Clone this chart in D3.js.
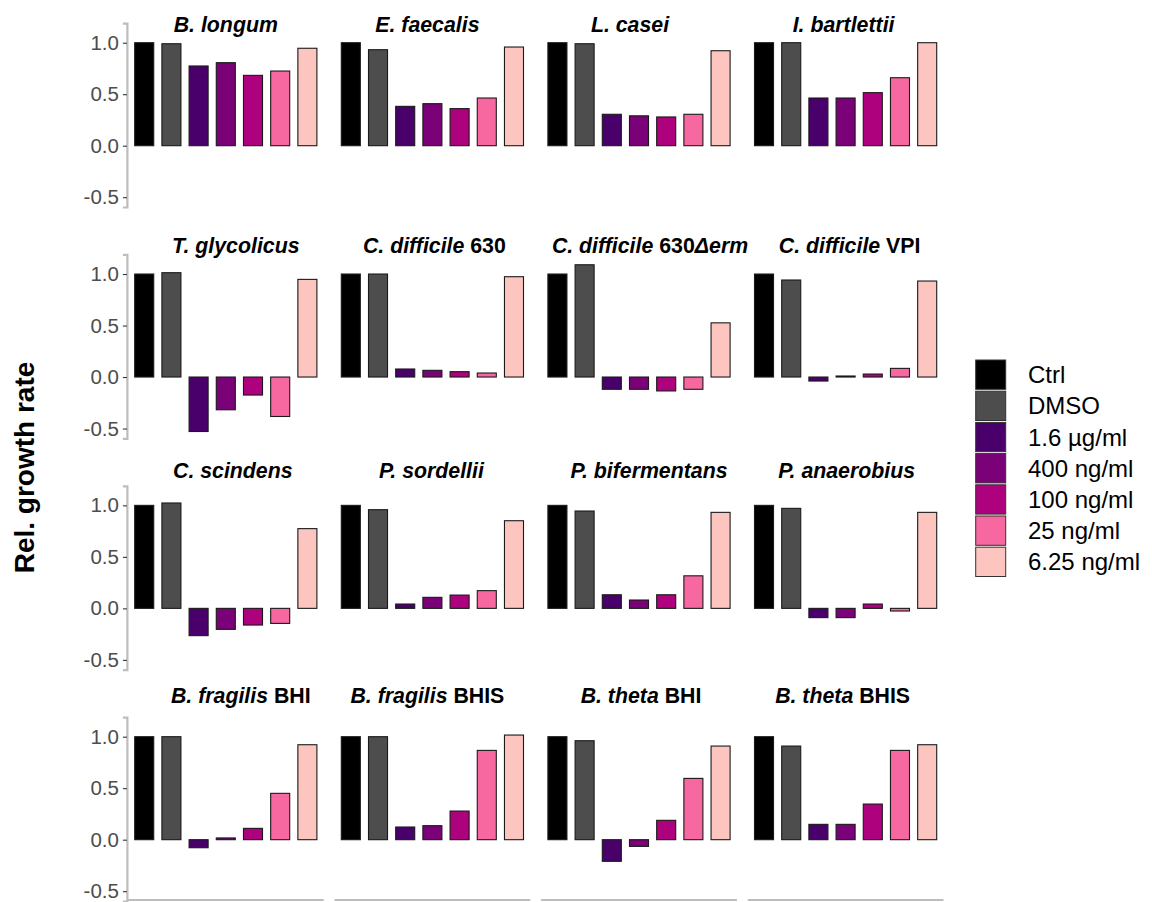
<!DOCTYPE html>
<html>
<head>
<meta charset="utf-8">
<script src="https://cdn.jsdelivr.net/npm/d3@7"></script>
<style>
  html, body { margin: 0; padding: 0; background: #fff; }
  svg { display: block; font-family: Arial, "Liberation Sans", Helvetica, sans-serif; }
</style>
</head>
<body>
<svg id="chart" width="1152" height="902"></svg>
<script>
// ---------- data ----------
const groups = ["Ctrl", "DMSO", "1.6 µg/ml", "400 ng/ml", "100 ng/ml", "25 ng/ml", "6.25 ng/ml"];
const colors = ["#000000", "#4D4D4D", "#49006A", "#7A0177", "#AE017E", "#F768A1", "#FCC5C0"];

// facet titles: segments [text, italic]
const titles = [
  [["B. longum", true]],
  [["E. faecalis", true]],
  [["L. casei", true]],
  [["I. bartlettii", true]],
  [["T. glycolicus", true]],
  [["C. difficile", true], [" 630", false]],
  [["C. difficile", true], [" 630", false], ["Δerm", true]],
  [["C. difficile", true], [" VPI", false]],
  [["C. scindens", true]],
  [["P. sordellii", true]],
  [["P. bifermentans", true]],
  [["P. anaerobius", true]],
  [["B. fragilis", true], [" BHI", false]],
  [["B. fragilis", true], [" BHIS", false]],
  [["B. theta", true], [" BHI", false]],
  [["B. theta", true], [" BHIS", false]]
];

// one array per treatment, one value per facet (in facet order)
const ctrl   = [1.00, 1.00, 1.00, 1.00, 1.00, 1.00, 1.00, 1.00, 1.00, 1.00, 1.00, 1.00, 1.00, 1.00, 1.00, 1.00];
const dmso   = [0.99, 0.932, 0.99, 1.00, 1.013, 1.00, 1.09, 0.942, 1.023, 0.958, 0.945, 0.971, 1.00, 1.00, 0.961, 0.909];
const c1600  = [0.774, 0.382, 0.305, 0.463, -0.529, 0.078, -0.119, -0.039, -0.265, 0.042, 0.132, -0.09, -0.078, 0.123, -0.21, 0.149];
const c400   = [0.806, 0.408, 0.29, 0.463, -0.318, 0.065, -0.119, 0.01, -0.204, 0.107, 0.081, -0.09, 0.017, 0.136, -0.065, 0.149];
const c100   = [0.683, 0.36, 0.279, 0.515, -0.175, 0.052, -0.135, 0.029, -0.162, 0.129, 0.132, 0.042, 0.11, 0.278, 0.188, 0.346];
const c25    = [0.725, 0.463, 0.305, 0.66, -0.383, 0.039, -0.119, 0.084, -0.146, 0.172, 0.316, -0.026, 0.45, 0.867, 0.595, 0.867];
const c6_25  = [0.946, 0.958, 0.922, 1.00, 0.948, 0.974, 0.526, 0.932, 0.774, 0.851, 0.932, 0.932, 0.922, 1.016, 0.909, 0.922];
const series = [ctrl, dmso, c1600, c400, c100, c25, c6_25];

const yTicks = [-0.5, 0.0, 0.5, 1.0];
const yTitle = "Rel. growth rate";

// ---------- layout ----------
const ncol = 4;
const colLeft0 = 127.9, colStep = 206.6, panelW = 195.8;
const row0 = 145.7, rowStep = 231.33;           // zero line of each row
const titleBase = [32, 252.5, 477.5, 703];
const titleShift = [0, -5, -9, -2, 10, 2, 11, 4, 7, -1, 10, 1, 15, -5, 2, -3];
const yDomain = [-0.595, 1.19];
const pxPerUnit = 103;

const svg = d3.select("#chart");

const x = d3.scaleBand().domain(groups).range([0, panelW]).paddingInner(0.3).paddingOuter(0.25);
const color = d3.scaleOrdinal().domain(groups).range(colors);

titles.forEach((t, i) => {
  const r = Math.floor(i / ncol), c = i % ncol;
  const left = colLeft0 + c * colStep;
  const zero = row0 + r * rowStep;
  const y = d3.scaleLinear().domain(yDomain)
    .range([zero - yDomain[0] * pxPerUnit, zero - yDomain[1] * pxPerUnit]);

  const g = svg.append("g").attr("transform", `translate(${left},0)`);

  // bars
  const vals = groups.map((grp, k) => ({ grp, v: series[k][i] }));
  g.selectAll("rect.bar").data(vals).join("rect")
    .attr("class", "bar")
    .attr("x", d => x(d.grp))
    .attr("width", x.bandwidth())
    .attr("y", d => y(Math.max(0, d.v)))
    .attr("height", d => Math.max(0.6, Math.abs(y(d.v) - y(0))))
    .attr("fill", d => color(d.grp))
    .attr("stroke", "#1a1a1a")
    .attr("stroke-width", 1.1);

  // y axis only on first column
  if (c === 0) {
    const ax = svg.append("g").attr("transform", `translate(${left - 1},0)`)
      .call(d3.axisLeft(y).tickValues(yTicks).tickFormat(d3.format(".1f")).tickSize(4).tickPadding(4));
    ax.select(".domain").attr("stroke", "#BDBDBD").attr("stroke-width", 2.2);
    ax.selectAll(".tick line").attr("stroke", "#333333").attr("stroke-width", 1.1);
    ax.selectAll(".tick text").attr("fill", "#4D4D4D").style("font-size", "20.5px")
      .text(d => d3.format(".1f")(d).replace("−", "-"));
    ax.attr("font-family", null);
  }

  // x axis line only on bottom row
  if (r === 3) {
    const ybot = y(yDomain[0]) - 1;
    g.append("line").attr("x1", 0).attr("x2", panelW).attr("y1", ybot).attr("y2", ybot)
      .attr("stroke", "#BDBDBD").attr("stroke-width", 2.2);
  }

  // facet title
  const tt = svg.append("text")
    .attr("x", left + panelW / 2 + titleShift[i])
    .attr("y", titleBase[r])
    .attr("text-anchor", "middle")
    .style("font-size", "21.3px")
    .style("font-weight", "bold")
    .attr("fill", "#000");
  t.forEach(([s, it]) => {
    tt.append("tspan").text(s).style("font-style", it ? "italic" : "normal");
  });
});

// y axis title
svg.append("text")
  .attr("transform", `translate(34,467.5) rotate(-90)`)
  .attr("text-anchor", "middle")
  .style("font-size", "28px")
  .style("font-weight", "bold")
  .attr("fill", "#000")
  .text(yTitle);

// legend
const legX = 975.7, legY = 360, legStep = 31.2, keyW = 30, keyH = 29.3;
const leg = svg.append("g");
groups.forEach((grp, k) => {
  leg.append("rect")
    .attr("x", legX).attr("y", legY + k * legStep)
    .attr("width", keyW).attr("height", keyH)
    .attr("fill", color(grp)).attr("stroke", "#333").attr("stroke-width", 1);
  leg.append("text")
    .attr("x", 1028).attr("y", legY + k * legStep + keyH / 2)
    .attr("dy", "0.36em")
    .style("font-size", "24px")
    .attr("fill", "#000")
    .text(grp);
});
</script>
</body>
</html>
